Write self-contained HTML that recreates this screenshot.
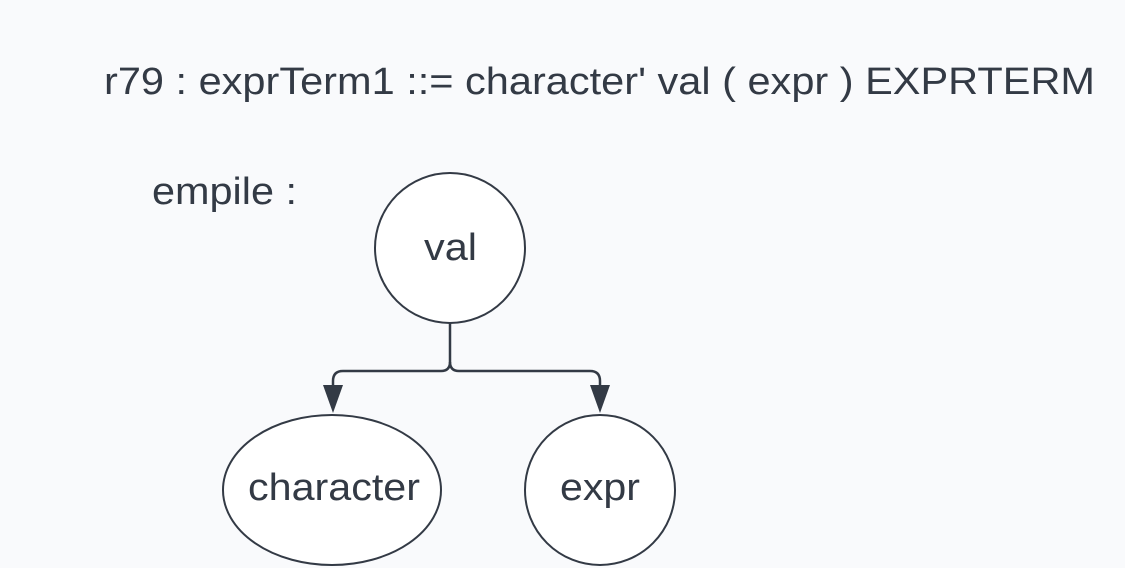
<!DOCTYPE html>
<html><head><style>
html,body{margin:0;padding:0;background:#f9fafc;}
svg{display:block}
text{font-family:"Liberation Sans",sans-serif;fill:#333a45}
</style></head><body>
<svg width="1125" height="568" viewBox="0 0 1125 568">
<rect width="1125" height="568" fill="#f9fafc"/>
<text x="104" y="94" font-size="38" textLength="991" lengthAdjust="spacingAndGlyphs">r79 : exprTerm1 ::= character' val ( expr ) EXPRTERM</text>
<text x="152" y="204" font-size="38" textLength="145" lengthAdjust="spacingAndGlyphs">empile :</text>
<g stroke="#333a45" stroke-width="2" fill="#fff">
<circle cx="450" cy="248" r="75"/>
<ellipse cx="332" cy="490" rx="109" ry="75"/>
<circle cx="600" cy="490" r="75"/>
</g>
<g stroke="#333a45" stroke-width="2.5" fill="none">
<path d="M450 323 V362 Q450 371 441 371 H343 Q333 371 333 381 V388"/>
<path d="M450 362 Q450 371 459 371 H590 Q600 371 600 381 V388"/>
</g>
<g fill="#333a45">
<polygon points="323,385 343,385 333,413"/>
<polygon points="590,385 610,385 600,413"/>
</g>
<text x="424" y="260" font-size="38" textLength="53" lengthAdjust="spacingAndGlyphs">val</text>
<text x="248" y="500" font-size="38" textLength="172" lengthAdjust="spacingAndGlyphs">character</text>
<text x="560" y="500" font-size="38" textLength="80" lengthAdjust="spacingAndGlyphs">expr</text>
</svg>
</body></html>
